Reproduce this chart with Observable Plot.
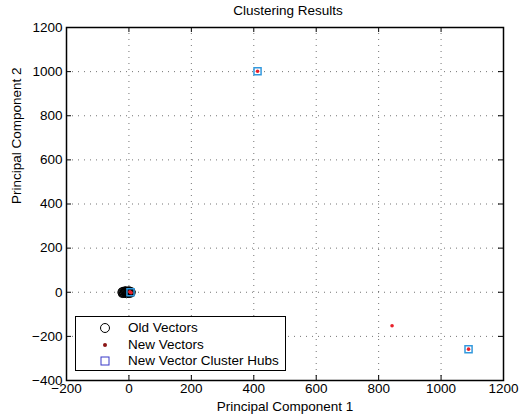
<!DOCTYPE html>
<html>
<head>
<meta charset="utf-8">
<script src="https://cdn.jsdelivr.net/npm/d3@7"></script>
<script src="https://cdn.jsdelivr.net/npm/@observablehq/plot@0.6"></script>
<style>
  html, body { margin: 0; padding: 0; background: white; }
  #wrap { position: relative; width: 532px; height: 417px; }
  #legend { position: absolute; left: 75px; top: 316px; width: 209px; height: 53px;
            border: 1.5px solid black; background: white;
            font-family: "Liberation Sans", Arial, sans-serif; font-size: 13.5px; }
  #legend .row { position: absolute; left: 0; height: 16px; line-height: 16px; white-space: nowrap; }
  #legend svg { position: absolute; left: 21px; top: 0; }
  #legend span { position: absolute; left: 52px; top: 0; }
</style>
</head>
<body>
<div id="wrap"></div>
<script>
// Old vectors (black circles), clustered near the origin
const oldX = [-23, -20, -18, -15, -12, -10, -8, -6, -4, -2, 0, 2, 4, 6, 8, -21, -16, -11, -5, 1, 5, -14, -9, -3, 3];
const oldY = [0, 4, -5, 6, -3, 7, -7, 2, -4, 5, -6, 1, -1, 4, 0, -6, -4, 5, -2, 7, -5, 1, -1, 0, 2];
// New vectors (red dots)
const newX = [5, 3, 7, 412, 843, 1088];
const newY = [0, 2, -2, 1002, -152, -258];
// New vector cluster hubs (blue squares)
const hubX = [5, 412, 1088];
const hubY = [0, 1002, -258];
// Axis ticks
const xTicks = [-200, 0, 200, 400, 600, 800, 1000, 1200];
const yTicks = [-400, -200, 0, 200, 400, 600, 800, 1000, 1200];
const legendLabels = ["Old Vectors", "New Vectors", "New Vector Cluster Hubs"];

const oldData = oldX.map((x, i) => ({x, y: oldY[i]}));
const newData = newX.map((x, i) => ({x, y: newY[i]}));
const hubData = hubX.map((x, i) => ({x, y: hubY[i]}));

const fmt = d => d < 0 ? "\u2212" + Math.abs(d) : String(d);

const W = 532, H = 417, mL = 66, mR = 29, mT = 27, mB = 37;
const fw = W - mL - mR, fh = H - mT - mB;

const chart = Plot.plot({
  width: W, height: H,
  marginLeft: mL, marginRight: mR, marginTop: mT, marginBottom: mB,
  style: {fontFamily: "Liberation Sans, Arial, sans-serif", fontSize: "13.5px", background: "white", color: "black"},
  x: {domain: [-200, 1200], ticks: xTicks, label: null},
  y: {domain: [-400, 1200], ticks: yTicks, label: null},
  marks: [
    Plot.gridX(xTicks, {stroke: "#000", strokeOpacity: 0.55, strokeDasharray: "1,5"}),
    Plot.gridY(yTicks, {stroke: "#000", strokeOpacity: 0.55, strokeDasharray: "1,5"}),
    Plot.axisX(xTicks, {tickSize: 0, tickPadding: 3, label: null, tickFormat: fmt}),
    Plot.axisY(yTicks, {tickSize: 0, tickPadding: 4, label: null, tickFormat: fmt}),
    Plot.ruleX(xTicks, {insetTop: fh - 5, stroke: "black"}),
    Plot.ruleX(xTicks, {insetBottom: fh - 5, stroke: "black"}),
    Plot.ruleY(yTicks, {insetRight: fw - 5, stroke: "black"}),
    Plot.ruleY(yTicks, {insetLeft: fw - 5, stroke: "black"}),
    Plot.dot(oldData, {x: "x", y: "y", r: 4, stroke: "black", fill: "none", strokeWidth: 1}),
    Plot.dot(hubData, {x: "x", y: "y", symbol: "square", r: 4, stroke: "#3399dd", fill: "none", strokeWidth: 1.5}),
    Plot.dot(newData, {x: "x", y: "y", r: 1.8, fill: "#e8202a", stroke: "none"}),
    Plot.frame({stroke: "black", strokeWidth: 1.5}),
    Plot.text(["Clustering Results"], {frameAnchor: "top", lineAnchor: "middle", dy: -17, dx: 3, text: d => d, fontSize: 13.5}),
    Plot.text(["Principal Component 1"], {frameAnchor: "bottom", lineAnchor: "middle", dy: 26, text: d => d, fontSize: 13.5}),
    Plot.text(["Principal Component 2"], {frameAnchor: "left", lineAnchor: "middle", dx: -50, rotate: -90, text: d => d, fontSize: 13.5})
  ]
});
const wrap = document.getElementById("wrap");
wrap.appendChild(chart);

// Legend (HTML overlay)
const legend = document.createElement("div");
legend.id = "legend";
const symbols = [
  '<circle cx="8" cy="8" r="4.5" fill="none" stroke="black" stroke-width="1"/>',
  '<circle cx="8" cy="8" r="2" fill="#8b1515"/>',
  '<rect x="4" y="4" width="8" height="8" fill="none" stroke="#3838c8" stroke-width="1"/>'
];
legendLabels.forEach((lab, i) => {
  const row = document.createElement("div");
  row.className = "row";
  row.style.top = (3 + i * 16.5) + "px";
  row.innerHTML = `<svg width="16" height="16">${symbols[i]}</svg><span>${lab}</span>`;
  legend.appendChild(row);
});
wrap.appendChild(legend);
</script>
</body>
</html>
